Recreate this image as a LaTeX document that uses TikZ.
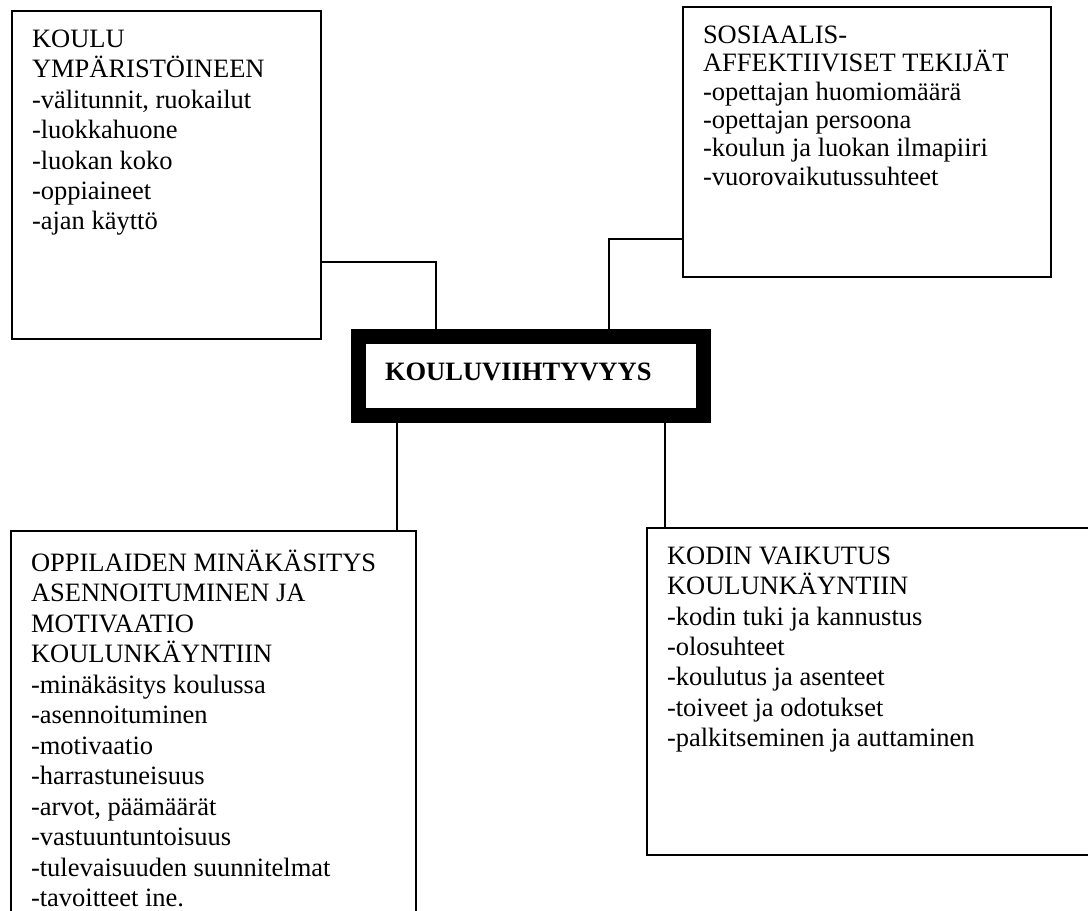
\documentclass[tikz,border=0pt]{standalone}
\usepackage{fontspec}
\setmainfont{Liberation Serif}
\usetikzlibrary{positioning}
\tikzset{
	factorbox/.style={draw, line width=2pt, outer sep=0pt, anchor=north west, inner xsep=20pt, inner ysep=19pt, font=\fontsize{26.5}{#1}\selectfont},
	hubbox/.style={draw, line width=15pt, minimum width=345pt, minimum height=79pt, text width=292pt, inner xsep=26.5pt, align=left, text height=22pt, text depth=14pt, font=\fontsize{26.5}{30}\selectfont\bfseries},
	link/.style={line width=1.6pt}
}
\newcommand{\boxtext}[3]{\parbox[c][#2][t]{#1}{#3}}

\begin{document}
\begin{tikzpicture}[x=1pt, y=-1pt]
				\useasboundingbox (0,0) rectangle (1088,911);
				\clip (0,0) rectangle (1088,911);
				
				\node[factorbox=30.4] (koulu) at (12,11) {\boxtext{269pt}{290pt}{KOULU\\YMPÄRISTÖINEEN\\-välitunnit, ruokailut\\-luokkahuone\\-luokan koko\\-oppiaineet\\-ajan käyttö}};
				
				\node[factorbox=28.3] (sosiaali) at (683,7) {\boxtext{328pt}{232pt}{SOSIAALIS-\\AFFEKTIIVISET TEKIJÄT\\-opettajan huomiomäärä\\-opettajan persoona\\-koulun ja luokan ilmapiiri\\-vuorovaikutussuhteet}};
				
				\node[hubbox] (hub) at (531,376) {KOULUVIIHTYVYYS};
				
				\node[factorbox=30.5] (oppilas) at (11,531) {\boxtext{365pt}{382pt}{OPPILAIDEN MINÄKÄSITYS\\ASENNOITUMINEN JA\\MOTIVAATIO\\KOULUNKÄYNTIIN\\-minäkäsitys koulussa\\-asennoituminen\\-motivaatio\\-harrastuneisuus\\-arvot, päämäärät\\-vastuuntuntoisuus\\-tulevaisuuden suunnitelmat\\-tavoitteet ine.}};
				
				\node[factorbox=30.3] (koti) at (647,528) {\boxtext{430pt}{289pt}{KODIN VAIKUTUS\\KOULUNKÄYNTIIN\\-kodin tuki ja kannustus\\-olosuhteet\\-koulutus ja asenteet\\-toiveet ja odotukset\\-palkitseminen ja auttaminen}};
				
				\coordinate (hubTL) at ([xshift=85pt]hub.north west);
				\coordinate (hubTR) at ([xshift=-102pt]hub.north east);
				\coordinate (hubBL) at ([xshift=46pt]hub.south west);
				\coordinate (hubBR) at ([xshift=-46pt]hub.south east);
				
				\draw[link] ([yshift=77pt]koulu.south east) -| (hubTL);
				\draw[link] ([yshift=38pt]sosiaali.south west) -| (hubTR);
				\draw[link] (hubBL) -- (hubBL |- oppilas.north);
				\draw[link] (hubBR) -- (hubBR |- koti.north);
\end{tikzpicture}
\end{document}
